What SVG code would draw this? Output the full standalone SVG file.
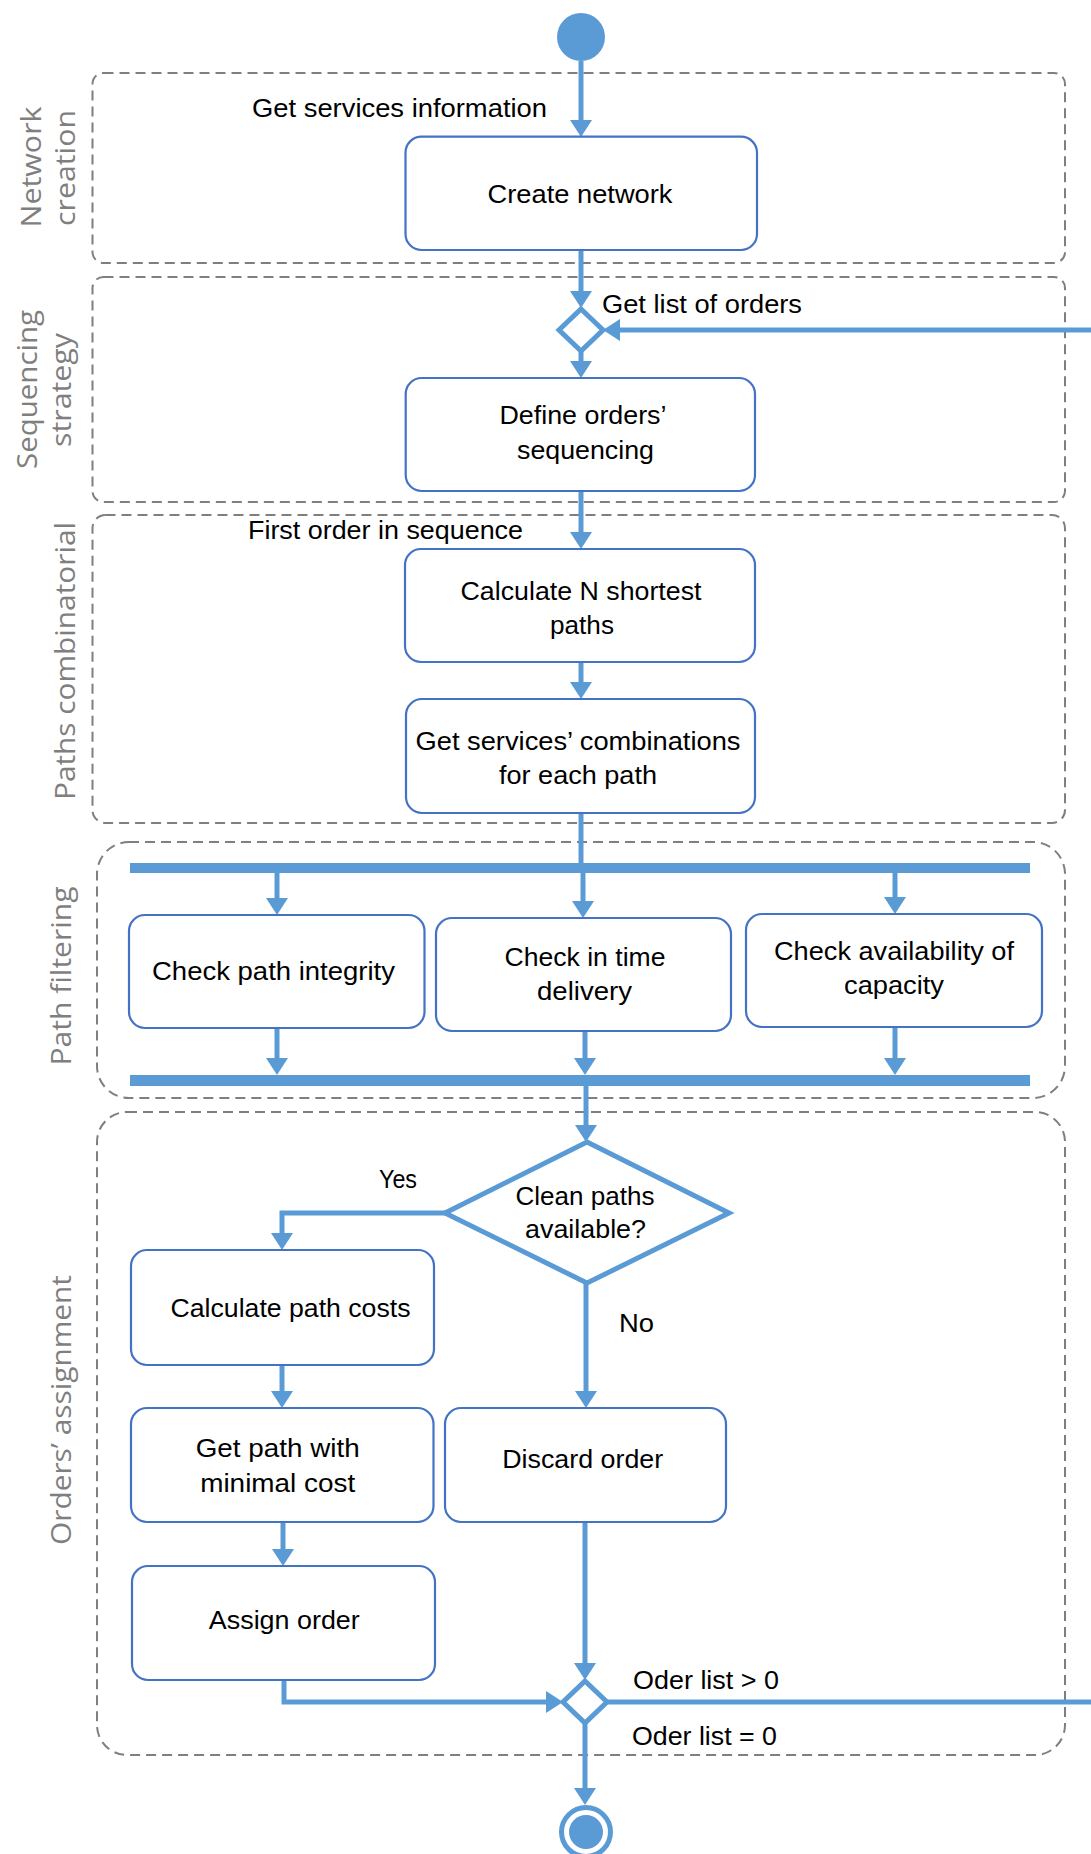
<svg xmlns="http://www.w3.org/2000/svg" width="1091" height="1854" viewBox="0 0 1091 1854">
  <style>
    .lane { fill: none; stroke: #7F7F7F; stroke-width: 2; stroke-dasharray: 10 6; }
    .lane-label { font-family: "Open Sans", "Liberation Sans", sans-serif; font-size: 28px; fill: #7F7F7F; text-anchor: middle; }
    .action { fill: #FFFFFF; stroke: #4472C4; stroke-width: 2.2; }
    .txt { font-family: "Liberation Sans", Arial, sans-serif; font-size: 26px; fill: #000000; }
    .mid { text-anchor: middle; }
    .flow { fill: none; stroke: #5B9BD5; stroke-width: 5; }
    .gate { fill: #FFFFFF; stroke: #5B9BD5; stroke-width: 5; stroke-linejoin: miter; }
    .bar { fill: #5B9BD5; }
  </style>
  <defs>
    <marker id="arrow" markerUnits="userSpaceOnUse" viewBox="0 0 17 22" markerWidth="17" markerHeight="22" refX="7" refY="11" orient="auto">
      <path d="M0,0 L17,11 L0,22 z" fill="#5B9BD5"/>
    </marker>
  </defs>

  <!-- swimlanes -->
  <g id="lanes">
    <rect class="lane" x="92.5" y="73" width="972.5" height="190" rx="11"/>
    <rect class="lane" x="92.5" y="277" width="972.5" height="225" rx="11"/>
    <rect class="lane" x="92.5" y="515" width="972.5" height="308" rx="13"/>
    <rect class="lane" x="97" y="842" width="968" height="256" rx="32"/>
    <rect class="lane" x="97" y="1112" width="968" height="643" rx="30"/>
    <text class="lane-label" transform="translate(41,167) rotate(-90)" textLength="121" lengthAdjust="spacingAndGlyphs">Network</text>
    <text class="lane-label" transform="translate(75,168) rotate(-90)" textLength="116" lengthAdjust="spacingAndGlyphs">creation</text>
    <text class="lane-label" transform="translate(37,389.5) rotate(-90)" textLength="159" lengthAdjust="spacingAndGlyphs">Sequencing</text>
    <text class="lane-label" transform="translate(71,390) rotate(-90)" textLength="114" lengthAdjust="spacingAndGlyphs">strategy</text>
    <text class="lane-label" transform="translate(75,661) rotate(-90)" textLength="278" lengthAdjust="spacingAndGlyphs">Paths combinatorial</text>
    <text class="lane-label" transform="translate(71,976) rotate(-90)" textLength="179" lengthAdjust="spacingAndGlyphs">Path filtering</text>
    <text class="lane-label" transform="translate(71,1410) rotate(-90)" textLength="270" lengthAdjust="spacingAndGlyphs">Orders’ assignment</text>
  </g>

  <!-- connectors -->
  <g id="connectors">
    <path class="flow" d="M581,61 V127" marker-end="url(#arrow)"/>
    <path class="flow" d="M581,250 V298" marker-end="url(#arrow)"/>
    <path class="flow" d="M1091,330 H613" marker-end="url(#arrow)"/>
    <path class="flow" d="M581,351 V368" marker-end="url(#arrow)"/>
    <path class="flow" d="M581,491 V539" marker-end="url(#arrow)"/>
    <path class="flow" d="M581,662 V689" marker-end="url(#arrow)"/>
    <path class="flow" d="M581,813 V865"/>
    <path class="flow" d="M277,873 V905" marker-end="url(#arrow)"/>
    <path class="flow" d="M583,873 V908" marker-end="url(#arrow)"/>
    <path class="flow" d="M895,873 V904" marker-end="url(#arrow)"/>
    <path class="flow" d="M277,1028 V1065" marker-end="url(#arrow)"/>
    <path class="flow" d="M585,1031 V1065" marker-end="url(#arrow)"/>
    <path class="flow" d="M895,1027 V1065" marker-end="url(#arrow)"/>
    <path class="flow" d="M586,1084 V1132" marker-end="url(#arrow)"/>
    <path class="flow" d="M447,1213 H282 V1240" stroke-width="6" marker-end="url(#arrow)"/>
    <path class="flow" d="M586,1283 V1398" marker-end="url(#arrow)"/>
    <path class="flow" d="M282,1365 V1398" marker-end="url(#arrow)"/>
    <path class="flow" d="M283,1522 V1556" marker-end="url(#arrow)"/>
    <path class="flow" d="M585,1522 V1670" marker-end="url(#arrow)"/>
    <path class="flow" d="M284,1680 V1702 H553" marker-end="url(#arrow)"/>
    <path class="flow" d="M607,1702 H1091"/>
    <path class="flow" d="M585,1723 V1795" marker-end="url(#arrow)"/>
    <text class="txt" x="252" y="117" textLength="295" lengthAdjust="spacingAndGlyphs">Get services information</text>
    <text class="txt" x="602" y="313" textLength="200" lengthAdjust="spacingAndGlyphs">Get list of orders</text>
    <text class="txt" x="248" y="539" textLength="275" lengthAdjust="spacingAndGlyphs">First order in sequence</text>
    <text class="txt" x="379" y="1188" textLength="38" lengthAdjust="spacingAndGlyphs">Yes</text>
    <text class="txt" x="619" y="1332" textLength="35" lengthAdjust="spacingAndGlyphs">No</text>
    <text class="txt" x="633" y="1689" textLength="146" lengthAdjust="spacingAndGlyphs">Oder list &gt; 0</text>
    <text class="txt" x="632" y="1745" textLength="145" lengthAdjust="spacingAndGlyphs">Oder list = 0</text>
  </g>

  <g id="start">
    <circle cx="581" cy="37" r="24" fill="#5B9BD5"/>
  </g>

  <g id="create-network">
    <rect class="action" x="405.5" y="136.7" width="351.5" height="113.3" rx="16"/>
    <text class="txt mid" x="580" y="203" textLength="185" lengthAdjust="spacingAndGlyphs">Create network</text>
  </g>

  <g id="orders-merge">
    <polygon class="gate" points="581,309 603,330 581,351 559,330"/>
  </g>

  <g id="define-sequencing">
    <rect class="action" x="405.7" y="378" width="349.3" height="113" rx="16"/>
    <text class="txt mid" x="583" y="424" textLength="167" lengthAdjust="spacingAndGlyphs">Define orders’</text>
    <text class="txt mid" x="585.5" y="459" textLength="137" lengthAdjust="spacingAndGlyphs">sequencing</text>
  </g>

  <g id="shortest-paths">
    <rect class="action" x="405" y="549" width="350" height="113" rx="16"/>
    <text class="txt mid" x="581" y="600" textLength="241" lengthAdjust="spacingAndGlyphs">Calculate N shortest</text>
    <text class="txt mid" x="582" y="634" textLength="64" lengthAdjust="spacingAndGlyphs">paths</text>
  </g>

  <g id="service-combinations">
    <rect class="action" x="406" y="699" width="349" height="114" rx="16"/>
    <text class="txt mid" x="578" y="750" textLength="325" lengthAdjust="spacingAndGlyphs">Get services’ combinations</text>
    <text class="txt mid" x="578" y="784" textLength="158" lengthAdjust="spacingAndGlyphs">for each path</text>
  </g>

  <g id="fork">
    <rect class="bar" x="130" y="863" width="900" height="10"/>
  </g>

  <g id="check-integrity">
    <rect class="action" x="129" y="915" width="295.5" height="113" rx="16"/>
    <text class="txt mid" x="273.5" y="980" textLength="243" lengthAdjust="spacingAndGlyphs">Check path integrity</text>
  </g>

  <g id="check-delivery">
    <rect class="action" x="436" y="918" width="295" height="113" rx="16"/>
    <text class="txt mid" x="585" y="966" textLength="161" lengthAdjust="spacingAndGlyphs">Check in time</text>
    <text class="txt mid" x="584.5" y="1000" textLength="95" lengthAdjust="spacingAndGlyphs">delivery</text>
  </g>

  <g id="check-capacity">
    <rect class="action" x="746" y="914" width="296" height="113" rx="16"/>
    <text class="txt mid" x="894" y="960" textLength="240" lengthAdjust="spacingAndGlyphs">Check availability of</text>
    <text class="txt mid" x="894" y="994" textLength="100" lengthAdjust="spacingAndGlyphs">capacity</text>
  </g>

  <g id="join">
    <rect class="bar" x="130" y="1075" width="900" height="11"/>
  </g>

  <g id="clean-paths">
    <polygon class="gate" stroke-width="6" points="587,1142 729,1213 587,1283 445,1213"/>
    <text class="txt mid" x="585" y="1205" textLength="139" lengthAdjust="spacingAndGlyphs">Clean paths</text>
    <text class="txt mid" x="585.5" y="1238" textLength="121" lengthAdjust="spacingAndGlyphs">available?</text>
  </g>

  <g id="path-costs">
    <rect class="action" x="131" y="1250" width="303" height="115" rx="16"/>
    <text class="txt mid" x="290.5" y="1317" textLength="240" lengthAdjust="spacingAndGlyphs">Calculate path costs</text>
  </g>

  <g id="minimal-cost">
    <rect class="action" x="131" y="1408" width="302.5" height="114" rx="16"/>
    <text class="txt mid" x="277.7" y="1457" textLength="164" lengthAdjust="spacingAndGlyphs">Get path with</text>
    <text class="txt mid" x="277.7" y="1492" textLength="155" lengthAdjust="spacingAndGlyphs">minimal cost</text>
  </g>

  <g id="discard-order">
    <rect class="action" x="445" y="1408" width="281" height="114" rx="16"/>
    <text class="txt mid" x="582.7" y="1468" textLength="161" lengthAdjust="spacingAndGlyphs">Discard order</text>
  </g>

  <g id="assign-order">
    <rect class="action" x="132" y="1566" width="303" height="114" rx="16"/>
    <text class="txt mid" x="284.3" y="1629" textLength="151" lengthAdjust="spacingAndGlyphs">Assign order</text>
  </g>

  <g id="list-merge">
    <polygon class="gate" points="585,1681 607,1702 585,1723 563,1702"/>
  </g>

  <g id="end">
    <circle cx="586" cy="1832" r="24.5" fill="#FFFFFF" stroke="#5B9BD5" stroke-width="5"/>
    <circle cx="586" cy="1832" r="17" fill="#5B9BD5"/>
  </g>
</svg>
